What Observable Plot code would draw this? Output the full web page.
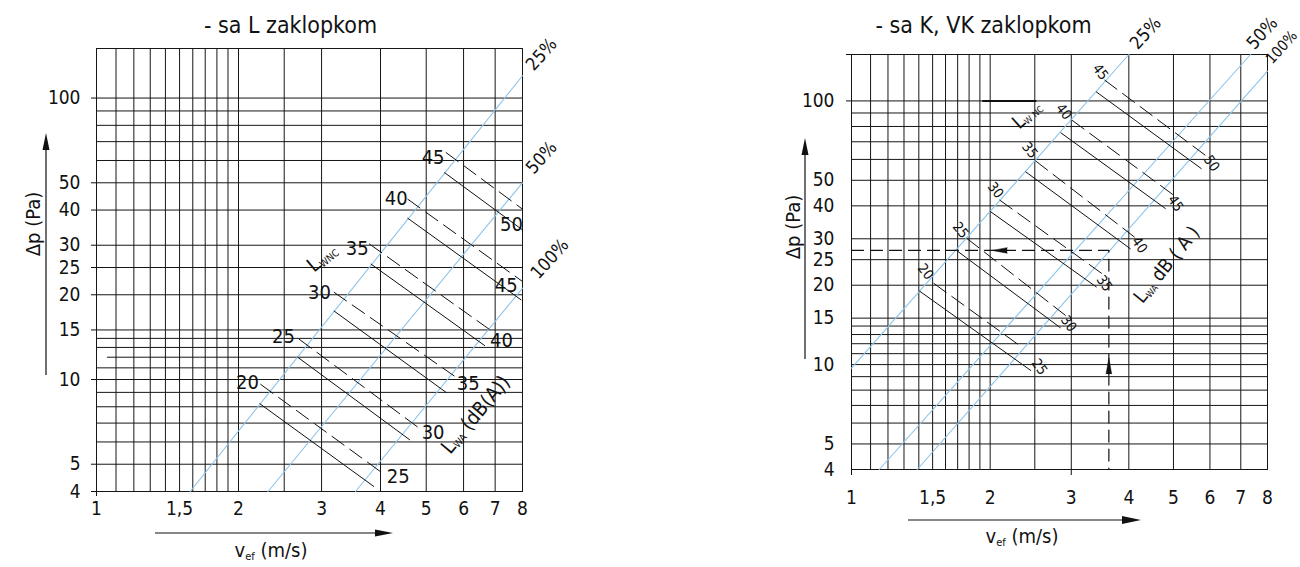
<!DOCTYPE html>
<html>
<head>
<meta charset="utf-8">
<script src="https://cdn.jsdelivr.net/npm/d3@7"></script>
<script src="https://cdn.jsdelivr.net/npm/@observablehq/plot@0.6"></script>
<style>
  html, body { margin: 0; padding: 0; background: #fff; }
  #wrap { position: relative; width: 1300px; height: 567px; overflow: hidden; }
  #left, #right { position: absolute; top: 0; width: 650px; height: 567px; }
  #left { left: 0; }
  #right { left: 650px; }
</style>
</head>
<body>
<div id="wrap"><div id="left"></div><div id="right"></div></div>
<script>
// ---------- shared axes / grid ----------
const xGrid = [1, 1.1, 1.2, 1.3, 1.4, 1.5, 1.6, 1.7, 1.8, 1.9, 2, 2.5, 3, 4, 5, 6, 7, 8];
const yGrid = [4, 5, 6, 7, 8, 9, 10, 11, 13, 14, 15, 20, 25, 30, 40, 50, 60, 70, 80, 90, 100, 150];
const xTickValues = [1, 1.5, 2, 3, 4, 5, 6, 7, 8];
const xTickLabels = ["1", "1,5", "2", "3", "4", "5", "6", "7", "8"];
const yTickValues = [4, 5, 10, 15, 20, 25, 30, 40, 50, 100];
const openings = ["25%", "50%", "100%"];
const yLabel = "Δp (Pa)";

// ---------- left chart: sa L zaklopkom ----------
const leftTitle = "- sa L zaklopkom";
const leftPartialY = [12];
const leftPartialStart = 1.055;
const leftOpeningLines = [
  [[1.58, 4], [8, 120]],
  [[2.31, 4], [8, 50]],
  [[3.54, 4], [8, 21.1]]
];
const leftPctPos = [[8.78, 142.9], [8.78, 61.4], [9.14, 26.8]];
const leftLwnc = [20, 25, 30, 35, 40, 45];
const leftLwa = [25, 30, 35, 40, 45, 50];
const leftDashed = [
  [[2.23, 9.6], [4.01, 4.69]],
  [[2.69, 13.9], [4.80, 6.77]],
  [[3.19, 20.4], [5.73, 10.3]],
  [[3.79, 30.3], [6.87, 14.9]],
  [[4.57, 43.7], [8, 22.3]],
  [[5.51, 64], [8, 40.3]]
];
const leftSolid = [
  [[2.22, 8.2], [3.87, 4.17]],
  [[2.67, 12.0], [4.61, 6.11]],
  [[3.19, 17.5], [5.51, 9.0]],
  [[3.82, 25.7], [6.65, 13.2]],
  [[4.57, 37.4], [7.94, 19.2]],
  [[5.47, 54.3], [8, 34.0]]
];
const leftLwncPos = [[2.09, 9.78], [2.49, 14.2], [2.97, 20.4], [3.57, 29.1], [4.32, 43.8], [5.17, 61.4]];
const leftLwaPos = [[4.36, 4.53], [5.17, 6.49], [6.14, 9.68], [7.22, 13.75], [7.39, 21.5], [7.58, 35.4]];
const leftLwncLabelPos = [3.02, 26.9];
const leftLwaLabelPos = [6.39, 7.45];

// ---------- right chart: sa K, VK zaklopkom ----------
const rightTitle = "- sa K, VK zaklopkom";
const rightPartialY = [12];
const rightOpeningLines = [
  [[1, 9.7], [4, 150]],
  [[1.149, 4], [7.35, 150]],
  [[1.389, 4], [8, 129.6]]
];
const rightPctPos = [[4.35, 180.6], [7.79, 180.6], [8.58, 159.8]];
const rightLwnc = [20, 25, 30, 35, 40, 45];
const rightLwa = [25, 30, 35, 40, 45, 50];
const rightDashed = [
  [[1.51, 20.3], [2.35, 11.6]],
  [[1.78, 30.1], [3.01, 14.7]],
  [[2.10, 42.0], [3.54, 21.8]],
  [[2.51, 59.2], [4.11, 30.5]],
  [[3.01, 84.5], [5.005, 43.9]],
  [[3.548, 119.8], [5.998, 60.4]]
];
const rightSolid = [
  [[1.405, 19.0], [2.45, 9.5]],
  [[1.70, 26.9], [2.84, 13.8]],
  [[2.00, 38.1], [3.40, 19.7]],
  [[2.39, 53.8], [4.03, 27.5]],
  [[2.85, 75.6], [4.80, 39.1]],
  [[3.40, 108.2], [5.745, 55.4]]
];
const rightLwncPos = [[1.447, 22.5], [1.724, 32.3], [2.054, 45.8], [2.438, 65.0], [2.89, 90.9], [3.47, 128.8]];
const rightLwaPos = [[2.558, 9.79], [2.96, 14.3], [3.54, 20.3], [4.22, 28.4], [5.05, 40.8], [6.05, 57.9]];
const rightBoldSegment = [[1.93, 100], [2.51, 100]];
const exampleVelocity = 3.62;
const examplePressure = 27.1;
const exampleLeftArrowV = 2.02;
const exampleUpArrowP = 10.6;
const rightLwncLabelPos = [2.41, 88.3];
const rightLwaLabelPos = [4.85, 23.8];

// ---------- styling ----------
const FONT = '"Liberation Sans Narrow", "Arial Narrow", "DejaVu Sans Condensed", "Liberation Sans", sans-serif';
const GRID = "#161616";
const INK = "#111";
const BLUE = "#8cc4ec";

const rows = segs => segs.flatMap((s, i) => s.map(([v, p]) => ({v, p, id: i})));
const pts = (pos, labels) => labels.map((t, i) => ({t: String(t), v: pos[i][0], p: pos[i][1]}));

function baseMarks(partialY, partialStart) {
  return [
    Plot.ruleX(xGrid, {stroke: GRID, strokeWidth: 1}),
    Plot.ruleY(yGrid, {stroke: GRID, strokeWidth: 1}),
    Plot.ruleY(partialY, {x1: partialStart, x2: 8, stroke: GRID, strokeWidth: 1}),
    Plot.frame({stroke: GRID, strokeWidth: 1})
  ];
}

function arrow(svg, x1, y1, x2, y2, hl, hw) {
  const g = d3.select(svg).append("g");
  const dx = x2 - x1, dy = y2 - y1, L = Math.hypot(dx, dy), ux = dx / L, uy = dy / L;
  const bx = x2 - ux * hl, by = y2 - uy * hl;
  g.append("line").attr("x1", x1).attr("y1", y1).attr("x2", bx + ux * 2).attr("y2", by + uy * 2)
    .attr("stroke", INK).attr("stroke-width", 1.2);
  g.append("path").attr("d", `M${x2},${y2}L${bx - uy * hw},${by + ux * hw}L${bx + uy * hw},${by - ux * hw}Z`)
    .attr("fill", INK);
}

function richText(svg, x, y, angle, parts) {
  const t = d3.select(svg).append("text")
    .attr("transform", `translate(${x},${y}) rotate(${angle})`)
    .attr("text-anchor", "middle")
    .attr("dominant-baseline", "middle")
    .attr("font-family", FONT)
    .attr("fill", INK);
  let shift = 0;
  parts.forEach(p => {
    const s = t.append("tspan").text(p.t).attr("font-size", p.s);
    const want = p.sub ? p.sub : 0;
    if (want !== shift) { s.attr("dy", want - shift); shift = want; }
  });
  return t;
}

function scalesOf(plot) {
  const sx = plot.scale("x"), sy = plot.scale("y");
  return [d3.scaleLog(sx.domain, sx.range), d3.scaleLog(sy.domain, sy.range)];
}

// ---------- LEFT ----------
const L = {ml: 96, mr: 128, mt: 48, mb: 76};
const leftPlot = Plot.plot({
  width: 650, height: 567,
  marginLeft: L.ml, marginRight: L.mr, marginTop: L.mt, marginBottom: L.mb,
  x: {type: "log", domain: [1, 8], ticks: [1], tickSize: 5, tickFormat: () => "", label: null},
  y: {type: "log", domain: [4, 150], ticks: [...yTickValues], tickSize: 5, tickFormat: () => "", label: null},
  style: {fontFamily: FONT, fontSize: "18px", color: INK, background: "transparent", overflow: "visible"},
  marks: [
    ...baseMarks(leftPartialY, leftPartialStart),
    Plot.line(rows(leftOpeningLines), {x: "v", y: "p", z: "id", stroke: BLUE, strokeWidth: 1.1}),
    Plot.line(rows(leftDashed), {x: "v", y: "p", z: "id", stroke: INK, strokeWidth: 1, strokeDasharray: "15,7"}),
    Plot.line(rows(leftSolid), {x: "v", y: "p", z: "id", stroke: INK, strokeWidth: 1}),
    Plot.text(pts(leftLwncPos, leftLwnc), {x: "v", y: "p", text: "t", fontSize: 20, fill: INK}),
    Plot.text(pts(leftLwaPos, leftLwa), {x: "v", y: "p", text: "t", fontSize: 20, fill: INK}),
    Plot.text(pts(leftPctPos, openings), {x: "v", y: "p", text: "t", rotate: -48, fontSize: 18, fill: INK}),
    Plot.text(xTickValues, {x: d => d, frameAnchor: "bottom", lineAnchor: "middle", dy: 17, text: (d, i) => xTickLabels[i], fontSize: 19, fill: INK}),
    Plot.text(yTickValues, {y: d => d, frameAnchor: "left", dx: -16, textAnchor: "end", lineAnchor: "middle", text: d => String(d), fontSize: 19, fill: INK}),
    Plot.text([leftTitle], {frameAnchor: "top", lineAnchor: "middle", textAnchor: "middle", dx: -19, dy: -23, fontSize: 23, fill: INK}),
    Plot.text([yLabel], {frameAnchor: "left", lineAnchor: "middle", textAnchor: "middle", dx: -63, dy: -46, rotate: -90, fontSize: 20, fill: INK})
  ]
});
document.getElementById("left").appendChild(leftPlot);
{
  const [fx, fy] = scalesOf(leftPlot);
  const right = 650 - L.mr, bottom = 567 - L.mb, cx = (L.ml + right) / 2;
  arrow(leftPlot, L.ml - 50, 375, L.ml - 50, 133, 17, 3.5);
  arrow(leftPlot, 155, bottom + 42, 393, bottom + 42, 18, 3.5);
  richText(leftPlot, cx - 38, bottom + 60, 0, [{t: "v", s: 20}, {t: "ef", s: 11, sub: 6}, {t: " (m/s)", s: 20}]);
  richText(leftPlot, fx(leftLwncLabelPos[0]), fy(leftLwncLabelPos[1]), -40, [{t: "L", s: 20}, {t: "WNC", s: 10, sub: 5}]);
  richText(leftPlot, fx(leftLwaLabelPos[0]), fy(leftLwaLabelPos[1]), -50, [{t: "L", s: 20}, {t: "WA", s: 10, sub: 5}, {t: " (dB(A))", s: 20}]);
}

// ---------- RIGHT ----------
const R = {ml: 201, mr: 33, mt: 54, mb: 98};
const rightPlot = Plot.plot({
  width: 650, height: 567,
  marginLeft: R.ml, marginRight: R.mr, marginTop: R.mt, marginBottom: R.mb,
  x: {type: "log", domain: [1, 8], ticks: [1, 3], tickSize: 6, tickFormat: () => "", label: null},
  y: {type: "log", domain: [4, 150], ticks: [100, 150], tickSize: 5, tickFormat: () => "", label: null},
  style: {fontFamily: FONT, fontSize: "18px", color: INK, background: "transparent", overflow: "visible"},
  marks: [
    ...baseMarks(rightPartialY, 1),
    Plot.line(rows([rightBoldSegment]), {x: "v", y: "p", z: "id", stroke: INK, strokeWidth: 2}),
    Plot.line(rows(rightOpeningLines), {x: "v", y: "p", z: "id", stroke: BLUE, strokeWidth: 1.1}),
    Plot.line(rows(rightDashed), {x: "v", y: "p", z: "id", stroke: INK, strokeWidth: 1, strokeDasharray: "15,7"}),
    Plot.line(rows(rightSolid), {x: "v", y: "p", z: "id", stroke: INK, strokeWidth: 1}),
    Plot.line([{v: 1, p: examplePressure}, {v: exampleVelocity, p: examplePressure}, {v: exampleVelocity, p: 4}],
      {x: "v", y: "p", stroke: INK, strokeWidth: 1.2, strokeDasharray: "12,7"}),
    Plot.vector([{v: exampleLeftArrowV, p: examplePressure}], {x: "v", y: "p", rotate: -90, length: 15, shape: "spike", r: 2.8, anchor: "end", fill: INK, stroke: INK, strokeWidth: 0.5}),
    Plot.vector([{v: exampleVelocity, p: exampleUpArrowP}], {x: "v", y: "p", rotate: 0, length: 16, shape: "spike", r: 2.8, anchor: "end", fill: INK, stroke: INK, strokeWidth: 0.5}),
    Plot.text(pts(rightLwncPos, rightLwnc), {x: "v", y: "p", text: "t", rotate: 52, fontSize: 14, fill: INK}),
    Plot.text(pts(rightLwaPos, rightLwa), {x: "v", y: "p", text: "t", rotate: 55, fontSize: 14, fill: INK}),
    Plot.text(pts(rightPctPos, openings), {x: "v", y: "p", text: "t", rotate: -48, fontSize: (d, i) => i === 2 ? 15 : 18, fill: INK}),
    Plot.text(xTickValues, {x: d => d, frameAnchor: "bottom", lineAnchor: "middle", dy: 28, text: (d, i) => xTickLabels[i], fontSize: 19, fill: INK}),
    Plot.text(yTickValues, {y: d => d, frameAnchor: "left", dx: -17, textAnchor: "end", lineAnchor: "middle", text: d => String(d), fontSize: 19, fill: INK}),
    Plot.text([rightTitle], {frameAnchor: "top", lineAnchor: "middle", textAnchor: "middle", dx: -76, dy: -29, fontSize: 23, fill: INK}),
    Plot.text([yLabel], {frameAnchor: "left", lineAnchor: "middle", textAnchor: "middle", dx: -58, dy: -35, rotate: -90, fontSize: 20, fill: INK})
  ]
});
document.getElementById("right").appendChild(rightPlot);
{
  const [fx, fy] = scalesOf(rightPlot);
  const right = 650 - R.mr, bottom = 567 - R.mb, cx = (R.ml + right) / 2;
  arrow(rightPlot, R.ml - 46, 359, R.ml - 46, 138, 17, 3.5);
  arrow(rightPlot, 258, bottom + 51, 491, bottom + 51, 19, 4);
  richText(rightPlot, cx - 37, bottom + 68, 0, [{t: "v", s: 20}, {t: "ef", s: 11, sub: 6}, {t: " (m/s)", s: 20}]);
  richText(rightPlot, fx(rightLwncLabelPos[0]), fy(rightLwncLabelPos[1]), -42, [{t: "L", s: 19}, {t: "W NC", s: 9, sub: 5}]);
  richText(rightPlot, fx(rightLwaLabelPos[0]), fy(rightLwaLabelPos[1]), -51, [{t: "L", s: 19}, {t: "WA", s: 9, sub: 5}, {t: " dB ( A )", s: 19}]);
}
</script>
</body>
</html>
